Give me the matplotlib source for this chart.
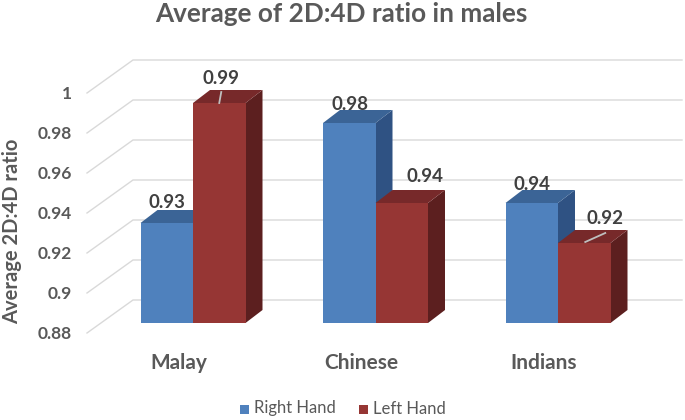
import matplotlib
matplotlib.use("Agg")
import matplotlib.pyplot as plt
from matplotlib.patches import Polygon, Rectangle
import numpy as np

categories = ["Malay", "Chinese", "Indians"]
series_names = ["Right Hand", "Left Hand"]
right_hand = [0.93, 0.98, 0.94]
left_hand = [0.99, 0.94, 0.92]
yticks = [0.88, 0.90, 0.92, 0.94, 0.96, 0.98, 1.00]
ytick_labels = ["0.88", "0.9", "0.92", "0.94", "0.96", "0.98", "1"]
title = "Average of 2D:4D ratio in males"
ylabel = "Average 2D:4D ratio"

FONT = ["Lato", "DejaVu Sans"]
plt.rcParams['font.family'] = FONT

W, H = 685, 420
fig = plt.figure(figsize=(W / 100, H / 100), dpi=100)

# scale: px per unit
PX_X = 182.5      # px per category
PX_Y = 2000.0     # px per value unit
ymin, ymax = 0.86, 1.02
x0_px = 193.0     # pixel of first category center
base_px = 323.0   # pixel (from top) of value 0.88 in bar plane
bottom_px = base_px + (0.88 - ymin) * PX_Y
ax = fig.add_axes([0, (H - bottom_px) / H, 1, (ymax - ymin) * PX_Y / H])
ax.set_xlim(-x0_px / PX_X, (W - x0_px) / PX_X)
ax.set_ylim(ymin, ymax)
ax.axis("off")

def dx(px):
    return px / PX_X

def dy(px):  # px upward
    return px / PX_Y

base = 0.88
# gridlines (front -> back wall -> right)
front_off = (-14, -10)
back_off = (32, 23)
right_end = (682 - x0_px) / PX_X
left_bar_plane = (101 - x0_px) / PX_X
grid_col = "#d9d9d9"
for v in yticks:
    xf = left_bar_plane + dx(front_off[0])
    yf = v + dy(front_off[1])
    xb = left_bar_plane + dx(back_off[0])
    yb = v + dy(back_off[1])
    ax.plot([xf, xb, right_end], [yf, yb, yb], color=grid_col, lw=1.0,
            solid_joinstyle="miter", zorder=1, clip_on=False)
for v, lab in zip(yticks, ytick_labels):
    ax.text(left_bar_plane + dx(front_off[0] - 15), v + dy(front_off[1] - 1), lab,
            ha="right", va="center", fontsize=12.5, color="#595959",
            fontweight="bold", clip_on=False)

bw = 52.5 / PX_X
depth_x, depth_y = dx(17), dy(13)
colors = {
    0: ("#4f81bd", "#3b6496", "#2f5283"),
    1: ("#963634", "#77292a", "#5c1f1f"),
}
xs = np.arange(len(categories))
series = [right_hand, left_hand]

z = 2
for i in xs:
    for s, vals in enumerate(series):
        v = vals[i]
        front, top, side = colors[s]
        xl = i - bw + s * bw
        xr = xl + bw
        side_poly = Polygon([(xr, base), (xr, v), (xr + depth_x, v + depth_y),
                             (xr + depth_x, base + depth_y)], closed=True,
                            facecolor=side, edgecolor="none", zorder=z)
        top_poly = Polygon([(xl, v), (xr, v), (xr + depth_x, v + depth_y),
                            (xl + depth_x, v + depth_y)], closed=True,
                           facecolor=top, edgecolor="none", zorder=z)
        ax.add_patch(side_poly)
        ax.add_patch(top_poly)
        ax.bar(xl, v - base, bottom=base, width=bw, align="edge",
               color=front, edgecolor="none", zorder=z + 0.5)
        z += 1

# data labels
lab_kw = dict(ha="center", va="center", fontsize=13.5, color="#404040",
              fontweight="bold", zorder=20)
label_off = {
    (0, 0): (0, 20), (0, 1): (2, 25),
    (1, 0): (1, 19), (1, 1): (23, 27),
    (2, 0): (0, 19), (2, 1): (21, 24),
}
for i in xs:
    for s, vals in enumerate(series):
        v = vals[i]
        xc = i - bw / 2 + s * bw
        ox, oy = label_off[(i, s)]
        ax.text(xc + dx(ox), v + dy(oy), f"{v:.2f}", **lab_kw)
# leader lines
ax.plot([0 + bw / 2, 0 + bw / 2 + dx(2)],
        [left_hand[0] + dy(0), left_hand[0] + dy(11)],
        color="#bfbfbf", lw=1.3, zorder=21)
ax.plot([2 + bw / 2 + dx(1), 2 + bw / 2 + dx(21)],
        [left_hand[2] + dy(1), left_hand[2] + dy(10)],
        color="#bfbfbf", lw=1.3, zorder=21)

# category labels
for i, c in enumerate(categories):
    ax.text(i + dx(front_off[0]), base + dy(-40), c, ha="center", va="center",
            fontsize=15, color="#595959", fontweight="bold", clip_on=False)

fig.text(0.4985, 1 - 14 / H, title, ha="center", va="center", fontsize=18.8,
         fontweight="bold", color="#595959")
fig.text(12 / W, 1 - 231 / H, ylabel, ha="center", va="center", rotation=90,
         fontsize=14.5, fontweight="bold", color="#595959")

# legend
for s, (name, x_sq) in enumerate(zip(series_names, [240, 359])):
    fig.patches.append(Rectangle((x_sq / W, 1 - 414 / H), 9 / W, 9 / H,
                                 transform=fig.transFigure,
                                 facecolor=colors[s][0], edgecolor="none"))
    fig.text((x_sq + 14) / W, 1 - 408.5 / H, name, ha="left", va="center",
             fontsize=12, color="#595959")

fig.savefig("out.png", dpi=100)
